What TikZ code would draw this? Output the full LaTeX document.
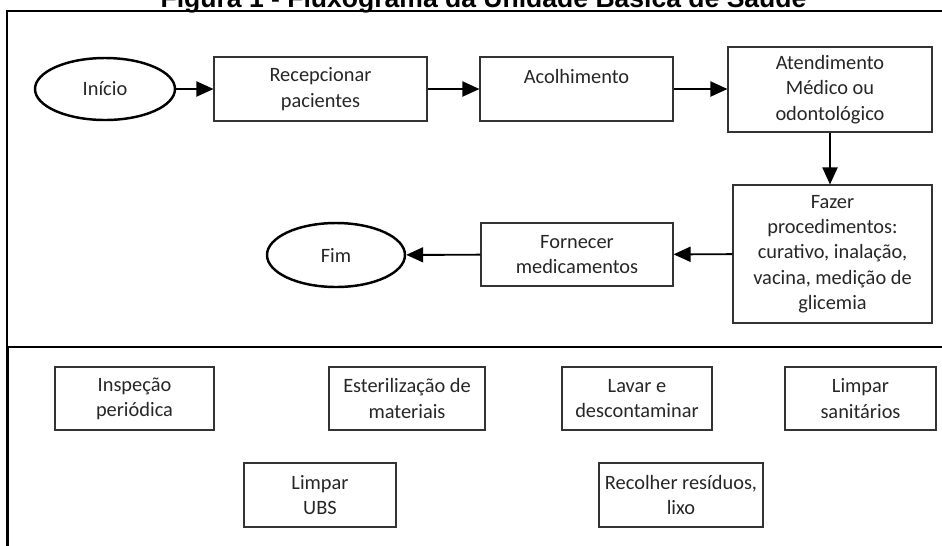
\documentclass[tikz,border=0pt]{standalone}
\usepackage{fontspec}
\setmainfont{Carlito}
\newfontfamily\titlefont{Liberation Sans}
\usepackage{tikz}
\usetikzlibrary{positioning, arrows.meta, shapes.geometric}

\begin{document}
\begin{tikzpicture}[
		procbox/.style={rectangle, draw=black!80, line width=0.6pt, align=center, text=black!85, font=\fontsize{11.6}{14.4}\selectfont, inner sep=2pt},
		terminal/.style={ellipse, draw=black, line width=1.4pt, text=black!85, font=\fontsize{11.6}{14.4}\selectfont, inner sep=0pt},
		arrow/.style={-{Triangle[length=0.34cm, width=0.30cm]}, line width=1.1pt},
		frame/.style={black, line width=0.8pt}
		]
		\useasboundingbox (0,0) rectangle (18.84,-10.9);
		% Title (partly outside the page, as in the scan)
		\node[anchor=base, font=\titlefont\bfseries\fontsize{15.1}{18}\selectfont] (titulo) at (9.67,-0.14) {Figura 1 - Fluxograma da Unidade Básica de Saúde};
		% Frames
		\draw[frame] (18.9,-0.22) -- (0.14,-0.22) -- (0.14,-6.94);
		\draw[frame, line width=1.3pt] (18.9,-6.94) -- (0.15,-6.94) -- (0.15,-11);
		% Main flow
		\node[terminal, minimum width=2.80cm, minimum height=1.24cm] (inicio) at (2.10,-1.78) {Início};
		\node[procbox, minimum width=4.26cm, minimum height=1.28cm] (recep) at (6.41,-1.78) {Recepcionar\\pacientes};
		\node[procbox, minimum width=3.86cm, minimum height=1.28cm] (acolh) at (11.53,-1.78) {Acolhimento\\\mbox{}};
		\node[procbox, minimum width=4.08cm, minimum height=1.70cm] (atend) at (16.60,-1.79) {Atendimento\\Médico ou\\odontológico};
		\node[procbox, minimum width=3.98cm, minimum height=2.76cm] (fazer) at (16.65,-5.08) {Fazer\\procedimentos:\\curativo, inalação,\\vacina, medição de\\glicemia};
		\node[procbox, minimum width=3.84cm, minimum height=1.26cm] (fornec) at (11.54,-5.09) {Fornecer\\medicamentos};
		\node[terminal, minimum width=2.76cm, minimum height=1.28cm] (fim) at (6.72,-5.10) {Fim};
		% Connectors
		\draw[arrow] (inicio) -- (recep);
		\draw[arrow] (recep) -- (acolh);
		\draw[arrow] (acolh) -- (acolh -| atend.west);
		\draw[arrow] (atend.south) -- (atend.south |- fazer.north);
		\draw[arrow] (fazer) -- (fornec);
		\draw[arrow] (fornec) -- (fim);
		% Support activities
		\node[procbox, minimum width=3.18cm, minimum height=1.26cm] (insp) at (2.69,-7.97) {Inspeção\\periódica};
		\node[procbox, minimum width=3.12cm, minimum height=1.26cm] (ester) at (8.14,-7.97) {Esterilização de\\materiais};
		\node[procbox, minimum width=3.00cm, minimum height=1.26cm] (lavar) at (12.74,-7.97) {Lavar e\\descontaminar};
		\node[procbox, minimum width=3.02cm, minimum height=1.26cm] (sanit) at (17.21,-7.97) {Limpar\\sanitários};
		\node[procbox, minimum width=3.04cm, minimum height=1.28cm] (ubs) at (6.40,-9.90) {Limpar\\UBS};
		\node[procbox, minimum width=3.28cm, minimum height=1.28cm] (recol) at (13.62,-9.90) {Recolher resíduos,\\lixo};
	\end{tikzpicture}
\end{document}
